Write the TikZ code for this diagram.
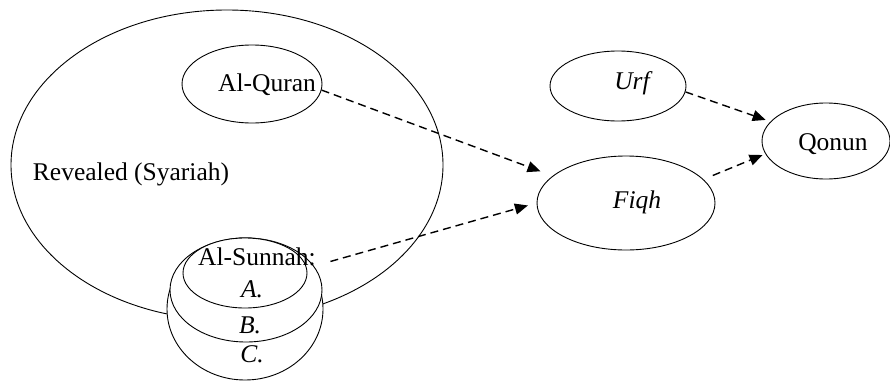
\documentclass[tikz,border=0pt]{standalone}
\usepackage{fontspec}
\setmainfont{Liberation Serif}
\usetikzlibrary{arrows.meta,shapes.geometric}

\begin{document}
\begin{tikzpicture}[x=1pt,y=-1pt,
  oval/.style={draw,ellipse,inner sep=0pt,line width=0.9pt},
  txt/.style={anchor=base,inner sep=0pt,font=\fontsize{25.5}{30}\selectfont},
  dep/.style={->,line width=1.4pt,dash pattern=on 8pt off 5pt},
  >={Triangle[length=13pt,width=11pt]}]
\useasboundingbox (0,0) rectangle (890,380);
% revealed sources
\node[oval,minimum width=432,minimum height=310] (rev) at (227,165) {};
\node[oval,minimum width=140,minimum height=78] (quran) at (252,84) {};
\node[txt] (qurantxt) at (267,91) {Al-Quran};
\node[txt] (revtxt) at (131,180) {Revealed (Syariah)};
% sunnah, three layers
\node[oval,fill=white,minimum width=156,minimum height=142] (sunc) at (245,309) {};
\node[oval,fill=white,minimum width=152,minimum height=104] (sunb) at (246,290) {};
\node[oval,fill=white,minimum width=124,minimum height=70] (suna) at (245,273) {};
\node[txt] (sunnahtxt) at (257,265) {Al-Sunnah:};
\node[txt] (atxt) at (252,297) {\itshape A.};
\node[txt] (btxt) at (250,333) {\itshape B.};
\node[txt] (ctxt) at (252,362) {\itshape C.};
% right side
\node[oval,minimum width=136,minimum height=70] (urf) at (618,86) {};
\node[txt] at (632,89) {\itshape Urf};
\node[oval,minimum width=178,minimum height=94] (fiqh) at (626,203) {};
\node[txt] at (637,208) {\itshape Fiqh};
\node[oval,minimum width=128,minimum height=76] (qonun) at (826,141) {};
\node[txt] at (833,150) {Qonun};
% links
\draw[dep,shorten >=13pt] (quran.-5) -- (fiqh);
\draw[dep,shorten <=15pt,shorten >=9pt] (sunnahtxt.south east) -- (fiqh.west);
\draw[dep,shorten >=5pt] (urf.-5) -- (qonun);
\draw[dep,shorten <=10pt,shorten >=3pt] (fiqh.17) -- (qonun.192);
\end{tikzpicture}
\end{document}
